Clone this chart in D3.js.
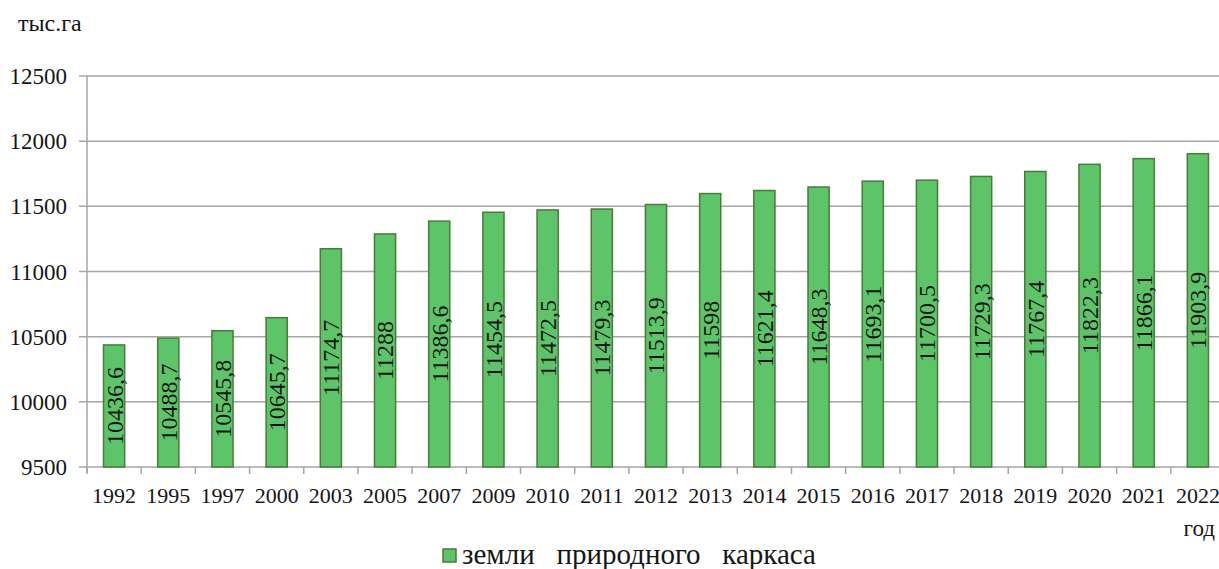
<!DOCTYPE html>
<html><head><meta charset="utf-8">
<script src="https://cdn.jsdelivr.net/npm/d3@7"></script>
<style>body{margin:0;background:#fff}svg{display:block}</style>
</head><body><svg id="c" width="1219" height="569" font-family="'Liberation Serif', 'DejaVu Serif', serif"></svg>
<script>
const years = ["1992","1995","1997","2000","2003","2005","2007","2009","2010","2011","2012","2013","2014","2015","2016","2017","2018","2019","2020","2021","2022"];
const values = [10436.6,10488.7,10545.8,10645.7,11174.7,11288,11386.6,11454.5,11472.5,11479.3,11513.9,11598,11621.4,11648.3,11693.1,11700.5,11729.3,11767.4,11822.3,11866.1,11903.9];
const yTicks = [9500,10000,10500,11000,11500,12000,12500];
const seriesName = "земли   природного   каркаса";
const yUnit = "тыс.га";
const xUnit = "год";

const svg = d3.select("#c");
const L = 87, R = 1225, T = 76, B = 467;
const x = d3.scaleBand().domain(years).range([L, R]).paddingInner(0.61).paddingOuter(0.305);
const y = d3.scaleLinear().domain([9500, 12500]).range([B, T]);
const step = x.step();
const fmt = v => String(v).replace(".", ",");
const ink = "#151515";

svg.append("g").selectAll("line").data(yTicks).join("line")
  .attr("x1", L - 8).attr("x2", 1219).attr("y1", d => y(d)).attr("y2", d => y(d))
  .attr("stroke", "#a6a6a6").attr("stroke-width", 1.5);
svg.append("line").attr("x1", L).attr("x2", L).attr("y1", T).attr("y2", B + 6)
  .attr("stroke", "#a6a6a6").attr("stroke-width", 1.5);
svg.append("g").selectAll("line").data(years).join("line")
  .attr("x1", d => x(d) - step * 0.305).attr("x2", d => x(d) - step * 0.305)
  .attr("y1", B).attr("y2", B + 7)
  .attr("stroke", "#a6a6a6").attr("stroke-width", 1.5);
svg.append("g").selectAll("text").data(yTicks).join("text")
  .attr("x", 67).attr("y", d => y(d)).attr("dy", "0.35em").attr("text-anchor", "end")
  .attr("font-size", 23).attr("fill", ink).text(d => d);
svg.append("g").selectAll("rect").data(values).join("rect")
  .attr("x", (d, i) => x(years[i])).attr("width", x.bandwidth())
  .attr("y", d => y(d)).attr("height", d => B - y(d))
  .attr("fill", "#5ec46a").attr("stroke", "#4b7a3c").attr("stroke-width", 1.5);
svg.append("g").selectAll("text").data(values).join("text")
  .attr("transform", (d, i) => `translate(${x(years[i]) + x.bandwidth() / 2},${(y(d) + B) / 2}) rotate(-90)`)
  .attr("text-anchor", "middle").attr("dy", "0.35em").attr("font-size", 24).attr("fill", ink)
  .text(fmt);
svg.append("g").selectAll("text").data(years).join("text")
  .attr("x", d => x(d) + x.bandwidth() / 2).attr("y", 503).attr("text-anchor", "middle")
  .attr("font-size", 22).attr("fill", ink).text(d => d);
svg.append("text").attr("x", 18).attr("y", 31).attr("font-size", 24).attr("fill", ink).text(yUnit);
svg.append("text").attr("x", 1215).attr("y", 536).attr("text-anchor", "end").attr("font-size", 23).attr("fill", ink).text(xUnit);
svg.append("rect").attr("x", 443).attr("y", 549).attr("width", 13).attr("height", 13)
  .attr("fill", "#5ec46a").attr("stroke", "#4b7a3c").attr("stroke-width", 1.5);
svg.append("text").attr("x", 462).attr("y", 564).attr("font-size", 29).attr("fill", ink)
  .attr("xml:space", "preserve").style("white-space", "pre").text(seriesName);
</script></body></html>
